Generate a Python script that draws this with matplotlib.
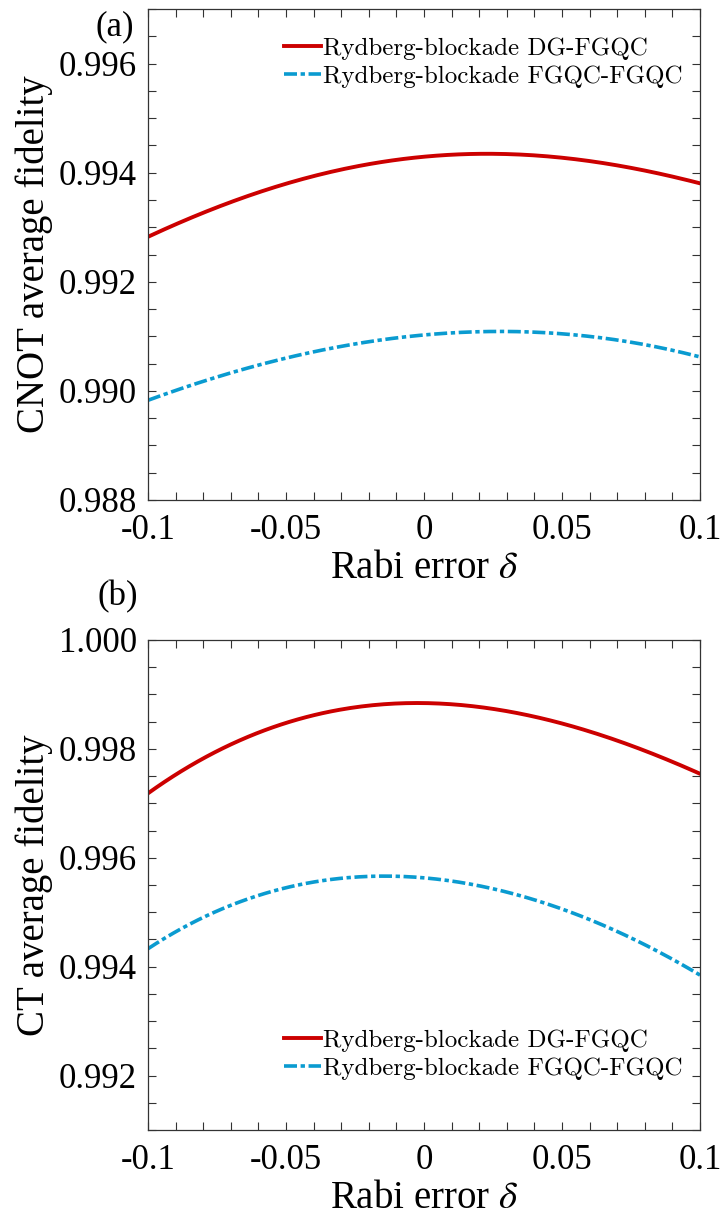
import numpy as np
import matplotlib
matplotlib.use('Agg')
import matplotlib.pyplot as plt
from matplotlib.ticker import MultipleLocator

plt.rcParams['font.family'] = ['Liberation Serif', 'DejaVu Serif']
plt.rcParams['axes.unicode_minus'] = False
plt.rcParams['mathtext.fontset'] = 'stix'

# Rabi error values
delta = [-0.1, -0.075, -0.05, -0.025, 0.0, 0.025, 0.05, 0.075, 0.1]

# (a) CNOT average fidelity
cnot_dg = [0.99283, 0.99335, 0.99380, 0.99413, 0.99428, 0.99434, 0.99427, 0.99410, 0.99380]
cnot_ff = [0.98983, 0.99025, 0.99060, 0.99087, 0.99102, 0.99109, 0.99104, 0.99090, 0.99062]

# (b) CT average fidelity
ct_dg = [0.99717, 0.99800, 0.99845, 0.99874, 0.99885, 0.99877, 0.99845, 0.99805, 0.99755]
ct_ff = [0.99432, 0.99505, 0.99543, 0.99563, 0.99564, 0.99545, 0.99505, 0.99452, 0.99385]

labels = ['Rydberg-blockade DG-FGQC', 'Rydberg-blockade FGQC-FGQC']
xticks = [-0.1, -0.05, 0, 0.05, 0.1]
xticklabels = ['-0.1', '-0.05', '0', '0.05', '0.1']

red = '#CC0000'
blue = '#0A9BD0'

W, H = 722, 1216
fig = plt.figure(figsize=(W / 100, H / 100), dpi=100)


def make_axes(top, bottom):
    return fig.add_axes([148 / W, 1 - bottom / H, (700 - 148) / W, (bottom - top) / H])


def smooth(x, y):
    # smooth polynomial through the read points
    c = np.polyfit(x, y, 4)
    xs = np.linspace(min(x), max(x), 200)
    return xs, np.polyval(c, xs)


def draw(ax, y1, y2, ylim, yticks, ylabel, legend_loc, anchor):
    xs, ys = smooth(delta, y1)
    ax.plot(xs, ys, color=red, lw=2.8, label=labels[0])
    xs, ys = smooth(delta, y2)
    ax.plot(xs, ys, color=blue, lw=2.6, ls=(0, (3.6, 1.0, 1.2, 1.0)), label=labels[1])
    ax.set_xlim(-0.1, 0.1)
    ax.set_ylim(*ylim)
    ax.set_xticks(xticks)
    ax.set_xticklabels(xticklabels)
    ax.set_yticks(yticks)
    ax.set_yticklabels(['%.3f' % v for v in yticks])
    ax.xaxis.set_minor_locator(MultipleLocator(0.01))
    ax.yaxis.set_minor_locator(MultipleLocator(0.0005))
    ax.tick_params(which='both', direction='in', top=True, right=True, labelsize=25,
                   width=0.8, color='#333333', length=5.5)
    ax.tick_params(axis='y', pad=8)
    ax.tick_params(axis='x', pad=10)
    for s in ax.spines.values():
        s.set_linewidth(0.9)
        s.set_color('#333333')
    ax.set_xlabel(r'Rabi error $\delta$', fontsize=28, labelpad=2)
    ax.set_ylabel(ylabel, fontsize=28, labelpad=4)
    ax.legend(loc=legend_loc, bbox_to_anchor=anchor, frameon=False,
              prop={'family': 'cmr10', 'size': 18},
              handlelength=1.45, handletextpad=0.1, borderaxespad=0.3,
              labelspacing=0.22)


ax1 = make_axes(9, 500)
draw(ax1, cnot_dg, cnot_ff, (0.988, 0.997), [0.988, 0.990, 0.992, 0.994, 0.996],
     'CNOT average fidelity', 'upper right', (1.0, 1 - 11 / 491))

ax2 = make_axes(640, 1130)
draw(ax2, ct_dg, ct_ff, (0.991, 1.000), [0.992, 0.994, 0.996, 0.998, 1.000],
     'CT average fidelity', 'lower right', (1.0, 33 / 490))

fig.text(115 / W, 1 - 27 / H, '(a)', fontsize=25, ha='center', va='center')
fig.text(118 / W, 1 - 597 / H, '(b)', fontsize=25, ha='center', va='center')

fig.savefig('out.png', dpi=100)
